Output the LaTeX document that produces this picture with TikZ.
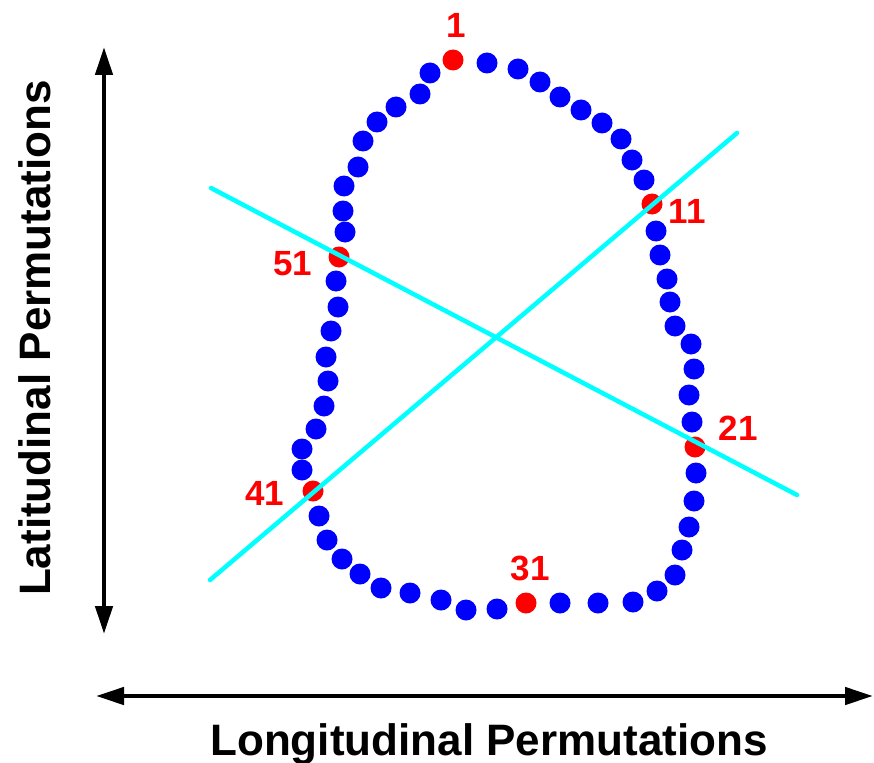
\documentclass[tikz,border=0pt]{standalone}
\usepackage{fontspec}
\setmainfont{Liberation Sans}
\usetikzlibrary{arrows.meta}
\definecolor{aqua}{RGB}{0,255,255}
\definecolor{ptblue}{RGB}{0,0,255}
\definecolor{ptred}{RGB}{255,0,0}

\begin{document}
\begin{tikzpicture}[
  x=1pt,y=-1pt,
  dot/.style={circle,inner sep=0pt,minimum size=21pt},
  lbl/.style={text=ptred,inner sep=0pt,font=\fontsize{35}{35}\selectfont\bfseries},
  ttl/.style={inner sep=0pt,font=\fontsize{44}{44}\selectfont\bfseries},
  axis/.style={line width=4.5pt,
               {Triangle[length=28pt,width=17pt]}-{Triangle[length=28pt,width=17pt]}},
  cut/.style={aqua,line width=4.5pt,line cap=round}
]
\useasboundingbox (0,0) rectangle (874,762);

% axes
\coordinate (ytop) at (104,47);
\coordinate (ybot) at (104,634);
\coordinate (xleft) at (96,696);
\coordinate (xright) at (873,696);
\draw[axis] (ytop) -- (ybot);
\draw[axis] (xleft) -- (xright);
\node[ttl,anchor=base] (xlab) at (489,755) {Longitudinal Permutations};
\node[ttl,rotate=90,anchor=base] (ylab) at (50,338) {Latitudinal Permutations};

% loop of points, every tenth one in red
\foreach \x/\y [count=\i] in {
  453/60, 487/63, 518/69, 540/82, 560/97, 581/110, 602/123, 621/139, 632/160, 644/180,
  652/204, 656/231, 660/255, 667/279, 670/302, 675/326, 691/344, 694/369, 689/395, 692/422,
  695/447, 696/473, 694/501, 689/527, 682/550, 675/575, 657/591, 633/602, 598/603, 560/603,
  526/603, 497/609, 466/610, 441/600, 410/593, 381/588, 360/574, 342/559, 327/540, 319/516,
  313/491, 302/470, 302/449, 316/429, 324/406, 328/381, 326/357, 331/331, 338/307, 336/281,
  339/257, 345/232, 343/211, 344/186, 358/167, 363/141, 377/122, 396/107, 420/94, 430/73}
{
  \pgfmathtruncatemacro\r{mod(\i,10)}
  \ifnum\r=1 \def\c{ptred}\else\def\c{ptblue}\fi
  \node[dot,fill=\c] (d\i) at (\x,\y) {};
}

% cutting lines
\coordinate (cut1a) at (211,188);
\coordinate (cut1b) at (797,495);
\coordinate (cut2a) at (210,580);
\coordinate (cut2b) at (737,133);
\draw[cut] (cut1a) -- (cut1b);
\draw[cut] (cut2a) -- (cut2b);

% labels
\node[lbl] (l1) at (456,25) {1};
\node[lbl] (l11) at (687,211) {11};
\node[lbl] (l21) at (738,428) {21};
\node[lbl] (l31) at (530,568) {31};
\node[lbl] (l41) at (265,493) {41};
\node[lbl] (l51) at (293,264) {51};
\end{tikzpicture}
\end{document}
